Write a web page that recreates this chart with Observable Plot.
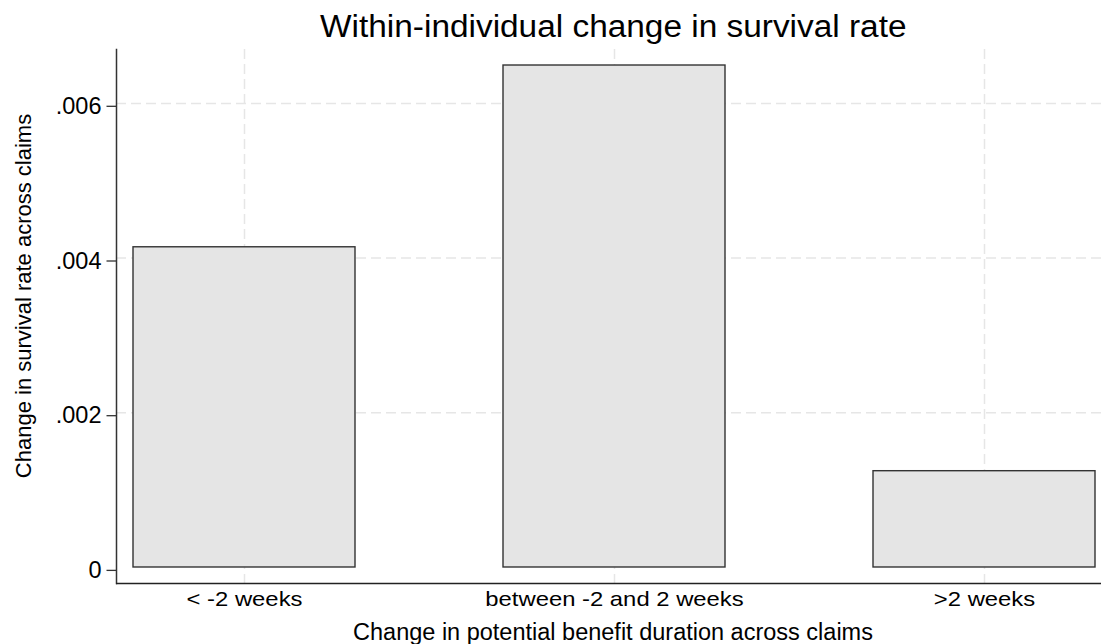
<!DOCTYPE html>
<html><head><meta charset="utf-8">
<script src="https://cdn.jsdelivr.net/npm/d3@7"></script>
<script src="https://cdn.jsdelivr.net/npm/@observablehq/plot@0.6"></script>
<style>
html,body{margin:0;padding:0;background:#fff;}
#chart{width:1101px;height:644px;font-family:"Liberation Sans",Arial,Helvetica,sans-serif;}
svg{display:block;}
</style></head><body><div id="chart"></div>
<script>
const title = "Within-individual change in survival rate";
const xLabel = "Change in potential benefit duration across claims";
const yLabel = "Change in survival rate across claims";
const categories = ["< -2 weeks", "between -2 and 2 weeks", ">2 weeks"];
const values = [0.00414, 0.00649, 0.001245];
const yTicks = [0, 0.002, 0.004, 0.006];
const yTickLabels = ["0", ".002", ".004", ".006"];
const yGridTicks = [0.002, 0.004, 0.006];
const yDomain = [-0.000207, 0.006697];

const data = categories.map((c, i) => ({category: c, value: values[i]}));
const FONT = '"Liberation Sans", Arial, Helvetica, sans-serif';

const root = document.getElementById("chart");
const tsvg = d3.select(root).append("svg").attr("width", 1101).attr("height", 49);
const tt = tsvg.append("text")
  .attr("x", 613.3).attr("y", 36.5)
  .attr("text-anchor", "middle")
  .attr("font-family", FONT).attr("font-size", 31).attr("fill", "#000")
  .text(title);

const gridStyle = {stroke: "#e6e6e6", strokeOpacity: 1, strokeWidth: 1.5, strokeDasharray: "10,5"};
const plot = Plot.plot({
  width: 1101, height: 595,
  marginTop: 0, marginBottom: 61, marginLeft: 116, marginRight: 0,
  style: {fontFamily: FONT, background: "#fff", color: "#000", overflow: "visible"},
  x: {type: "band", domain: categories, range: [132, 1095], paddingInner: 0.4, paddingOuter: 0},
  y: {domain: yDomain},
  marks: [
    Plot.gridY(yGridTicks, gridStyle),
    Plot.gridX(categories, gridStyle),
    Plot.barY(data, {x: "category", y: "value", fill: "#e5e5e5", stroke: "#333", strokeWidth: 1.4}),
    Plot.frame({anchor: "left", stroke: "#333", strokeWidth: 1.5}),
    Plot.ruleY([yDomain[0]], {stroke: "#222", strokeWidth: 1.5}),
    Plot.axisY(yTicks, {tickFormat: d => yTickLabels[yTicks.indexOf(d)], tickSize: 9.5, tickPadding: 5.5, fontSize: 23.5, dy: 2.9, stroke: "#333", strokeWidth: 1.3, fill: "#000", label: null}),
    Plot.axisX({tickSize: 0, tickPadding: 7.8, fontSize: 21, fill: "#000", label: null})
  ]
});
root.appendChild(plot);

const ps = d3.select(plot);
const H = 595 - 61; // frame bottom in svg coords
ps.append("text")
  .attr("x", 613).attr("y", H + 57)
  .attr("text-anchor", "middle")
  .attr("font-family", FONT).attr("font-size", 23.5).attr("fill", "#000")
  .text(xLabel);
ps.append("text")
  .attr("transform", `translate(30.5,${247}) rotate(-90)`)
  .attr("text-anchor", "middle")
  .attr("font-family", FONT).attr("font-size", 22).attr("fill", "#000")
  .text(yLabel);

function stretch(sel, f) {
  sel.each(function() {
    const L = this.getComputedTextLength();
    this.setAttribute("textLength", L * f);
    this.setAttribute("lengthAdjust", "spacingAndGlyphs");
  });
}
stretch(tt, 1.077);
stretch(ps.selectAll('g[aria-label="x-axis tick label"] text'), 1.135);
</script>
</body></html>
